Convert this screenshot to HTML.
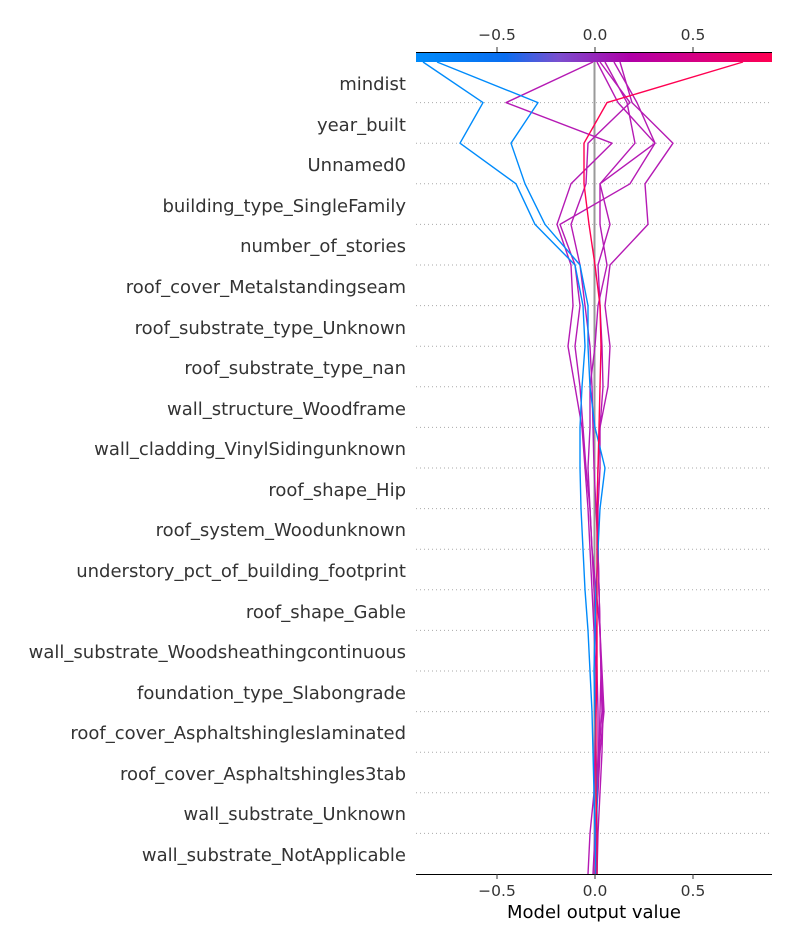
<!DOCTYPE html>
<html><head><meta charset="utf-8"><style>
html,body{margin:0;padding:0;background:#fff;}
svg{display:block;font-family:"DejaVu Sans","Liberation Sans",sans-serif;}
</style></head><body>
<svg width="800" height="950" viewBox="0 0 800 950" xmlns="http://www.w3.org/2000/svg">
<defs>
<linearGradient id="cb" x1="0" x2="1" y1="0" y2="0">
<stop offset="0" stop-color="#008bfb"/>
<stop offset="0.25" stop-color="#0a6ef0"/>
<stop offset="0.4" stop-color="#7a4fcf"/>
<stop offset="0.6" stop-color="#b000a8"/>
<stop offset="0.8" stop-color="#d90080"/>
<stop offset="1" stop-color="#ff0051"/>
</linearGradient>
</defs>
<g font-size="15.5" fill="#333" text-anchor="middle">
<text x="497" y="40">−0.5</text><text x="595" y="40">0.0</text><text x="693" y="40">0.5</text>
</g>
<g stroke="#333" stroke-width="1"><line x1="497" y1="47" x2="497" y2="52"/><line x1="595" y1="47" x2="595" y2="52"/><line x1="693" y1="47" x2="693" y2="52"/></g>
<rect x="416" y="52" width="356" height="10" fill="url(#cb)"/>
<line x1="416" y1="52.5" x2="772" y2="52.5" stroke="#000" stroke-width="1"/>
<g stroke="#aaa" stroke-width="1" stroke-dasharray="1,3">
<line x1="416" x2="772" y1="102.6" y2="102.6"/><line x1="416" x2="772" y1="143.2" y2="143.2"/><line x1="416" x2="772" y1="183.8" y2="183.8"/><line x1="416" x2="772" y1="224.4" y2="224.4"/><line x1="416" x2="772" y1="265" y2="265"/><line x1="416" x2="772" y1="305.6" y2="305.6"/><line x1="416" x2="772" y1="346.2" y2="346.2"/><line x1="416" x2="772" y1="386.8" y2="386.8"/><line x1="416" x2="772" y1="427.4" y2="427.4"/><line x1="416" x2="772" y1="468" y2="468"/><line x1="416" x2="772" y1="508.6" y2="508.6"/><line x1="416" x2="772" y1="549.2" y2="549.2"/><line x1="416" x2="772" y1="589.8" y2="589.8"/><line x1="416" x2="772" y1="630.4" y2="630.4"/><line x1="416" x2="772" y1="671" y2="671"/><line x1="416" x2="772" y1="711.6" y2="711.6"/><line x1="416" x2="772" y1="752.2" y2="752.2"/><line x1="416" x2="772" y1="792.8" y2="792.8"/><line x1="416" x2="772" y1="833.4" y2="833.4"/>
</g>
<line x1="594.5" y1="62" x2="594.5" y2="874" stroke="#999" stroke-width="2"/>
<g fill="none" stroke-width="1.4" stroke-linejoin="round">
<polyline stroke="#b51ab4" points="593,62 506,102.6 612,143.2 571,183.8 557,224.4 571,265 573,305.6 568,346.2 575,386.8 582,427.4 585,468 588,508.6 590,549.2 592,589.8 594,630.4 596,671 596,711.6 595,752.2 594,792.8 590,833.4 588,874"/>
<polyline stroke="#b51ab4" points="600,62 630,102.6 588,143.2 586,183.8 571,224.4 580,265 585,305.6 590,346.2 592,386.8 593,427.4 594,468 596,508.6 598,549.2 599,589.8 600,630.4 601,671 603,711.6 602,752.2 600,792.8 598,833.4 597,874"/>
<polyline stroke="#b51ab4" points="614,62 637,102.6 655,143.2 630,183.8 560,224.4 575,265 580,305.6 575,346.2 580,386.8 583,427.4 586,468 590,508.6 592,549.2 596,589.8 600,630.4 602,671 604,711.6 600,752.2 598,792.8 595,833.4 593,874"/>
<polyline stroke="#b51ab4" points="620,62 632,102.6 673,143.2 645,183.8 648,224.4 610,265 605,305.6 610,346.2 608,386.8 600,427.4 598,468 597,508.6 598,549.2 599,589.8 600,630.4 601,671 600,711.6 599,752.2 597,792.8 596,833.4 595,874"/>
<polyline stroke="#b51ab4" points="605,62 627,102.6 635,143.2 600,183.8 600,224.4 607,265 598,305.6 595,346.2 590,386.8 590,427.4 588,468 590,508.6 592,549.2 594,589.8 596,630.4 597,671 598,711.6 598,752.2 597,792.8 596,833.4 596,874"/>
<polyline stroke="#b51ab4" points="597,62 618,102.6 655,143.2 600,183.8 610,224.4 598,265 600,305.6 602,346.2 603,386.8 600,427.4 600,468 598,508.6 598,549.2 599,589.8 600,630.4 601,671 602,711.6 599,752.2 597,792.8 596,833.4 595,874"/>
<polyline stroke="#008bfb" points="423,62 483,102.6 460,143.2 516,183.8 535,224.4 575,265 583,305.6 585,346.2 582,386.8 580,427.4 580,468 581,508.6 583,549.2 585,589.8 588,630.4 590,671 592,711.6 593,752.2 594,792.8 595,833.4 596,874"/>
<polyline stroke="#008bfb" points="437,62 538,102.6 511,143.2 525,183.8 545,224.4 580,265 588,305.6 588,346.2 590,386.8 595,427.4 605,468 600,508.6 598,549.2 596,589.8 595,630.4 594,671 595,711.6 596,752.2 597,792.8 597,833.4 597,874"/>
<polyline stroke="#ff0051" points="743,62 607,102.6 584,143.2 584,183.8 589,224.4 595,265 600,305.6 601,346.2 600,386.8 599,427.4 598,468 597,508.6 597,549.2 597,589.8 597,630.4 597,671 596,711.6 596,752.2 596,792.8 597,833.4 597,874"/>
</g>
<line x1="416" y1="874.5" x2="772" y2="874.5" stroke="#000" stroke-width="1"/>
<g stroke="#333" stroke-width="1"><line x1="497" y1="874" x2="497" y2="879"/><line x1="595" y1="874" x2="595" y2="879"/><line x1="693" y1="874" x2="693" y2="879"/></g>
<g font-size="15.5" fill="#333" text-anchor="middle">
<text x="497" y="896">−0.5</text><text x="595" y="896">0.0</text><text x="693" y="896">0.5</text>
</g>
<text x="594" y="918" font-size="18" fill="#000" text-anchor="middle">Model output value</text>
<g font-size="18" fill="#333" text-anchor="end">
<text x="406" y="90">mindist</text>
<text x="406" y="131">year_built</text>
<text x="406" y="171">Unnamed0</text>
<text x="406" y="212">building_type_SingleFamily</text>
<text x="406" y="252">number_of_stories</text>
<text x="406" y="293">roof_cover_Metalstandingseam</text>
<text x="406" y="334">roof_substrate_type_Unknown</text>
<text x="406" y="374">roof_substrate_type_nan</text>
<text x="406" y="415">wall_structure_Woodframe</text>
<text x="406" y="455">wall_cladding_VinylSidingunknown</text>
<text x="406" y="496">roof_shape_Hip</text>
<text x="406" y="536">roof_system_Woodunknown</text>
<text x="406" y="577">understory_pct_of_building_footprint</text>
<text x="406" y="618">roof_shape_Gable</text>
<text x="406" y="658">wall_substrate_Woodsheathingcontinuous</text>
<text x="406" y="699">foundation_type_Slabongrade</text>
<text x="406" y="739">roof_cover_Asphaltshingleslaminated</text>
<text x="406" y="780">roof_cover_Asphaltshingles3tab</text>
<text x="406" y="820">wall_substrate_Unknown</text>
<text x="406" y="861">wall_substrate_NotApplicable</text>
</g>
</svg>
</body></html>
